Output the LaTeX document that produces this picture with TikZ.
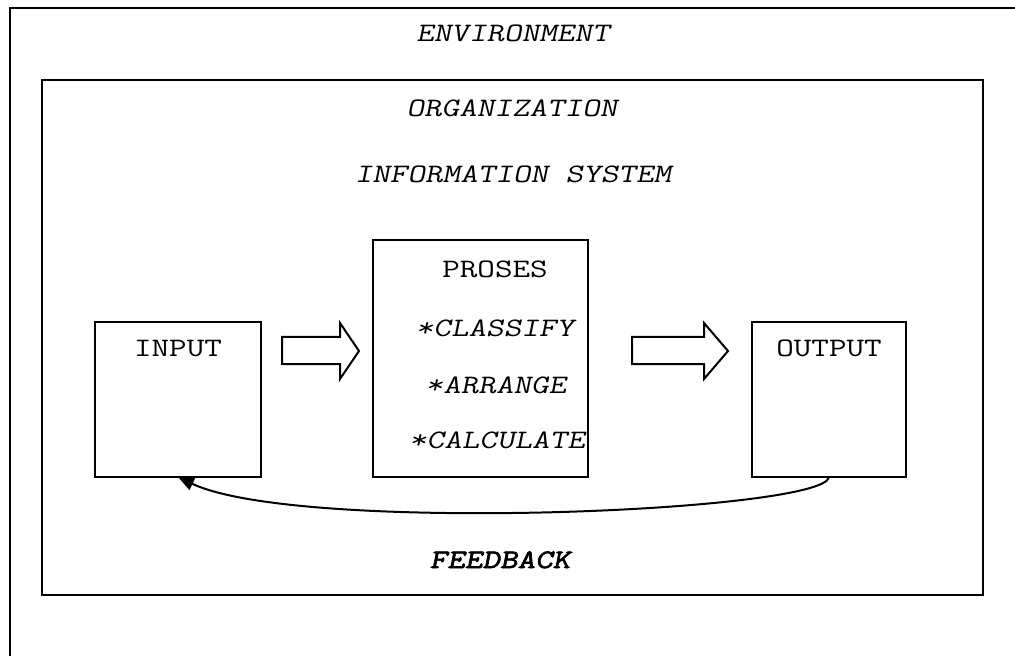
\documentclass[tikz,border=0pt]{standalone}
\usepackage{fontspec}
\setmonofont{Latin Modern Mono}[FakeStretch=1.28, ItalicFont={Latin Modern Mono}, ItalicFeatures={FakeSlant=0.2}]
\newfontfamily\fbfont{Latin Modern Mono}[FakeStretch=1.28, FakeBold=2.5, ItalicFont={Latin Modern Mono}, ItalicFeatures={FakeSlant=0.2}]
\usetikzlibrary{arrows.meta}

\begin{document}
\begin{tikzpicture}[x=0.75pt, y=-0.75pt,
  box/.style={draw, line width=1.5pt, inner sep=0pt, outer sep=0pt},
  lbl/.style={anchor=base, inner sep=0pt, font=\ttfamily\fontsize{20}{24}\selectfont},
  slant/.style={font=\ttfamily\itshape\fontsize{20}{24}\selectfont},
  blockarrow/.style={draw, line width=1.5pt, line join=miter}]
  \clip (0,0) rectangle (1015,656);
  % environment and organization
  \draw[line width=1.5pt] (10,8) rectangle (1040,690);
  \node[box, minimum width=705.75pt, minimum height=386.25pt] (org) at (512.5,337.5) {};
  \node[lbl, slant] (env) at (513,42) {ENVIRONMENT};
  \node[lbl, slant] (orgname) at (512,117) {ORGANIZATION};
  \node[lbl, slant] (infosys) at (513,183) {INFORMATION SYSTEM};
  % input - proses - output
  \node[box, minimum width=124.5pt, minimum height=116.25pt] (input) at (178,399.5) {};
  \node[box, minimum width=161.25pt, minimum height=177.75pt] (proses) at (480.5,358.5) {};
  \node[box, minimum width=115.5pt, minimum height=116.25pt] (output) at (829,399.5) {};
  \node[lbl] (inputname) at (178,357) {INPUT};
  \node[lbl] (outputname) at (829,357) {OUTPUT};
  \node[lbl] (prosesname) at (495,277) {PROSES};
  \node[lbl, slant] (classify) at (495,336) {*CLASSIFY};
  \node[lbl, slant] (arrange) at (496,393) {*ARRANGE};
  \node[lbl, slant] (calculate) at (497,448) {*CALCULATE};
  % block arrows
  \draw[blockarrow] (282,337) -- (340,337) -- (340,323) -- (359,351) -- (340,379) -- (340,364) -- (282,364) -- cycle;
  \draw[blockarrow] (632,337) -- (704,337) -- (704,323) -- (728,351) -- (704,379) -- (704,364) -- (632,364) -- cycle;
  % feedback
  \draw[line width=1.5pt, -{Triangle[length=12pt, width=10pt]}] (output.south) .. controls +(-4,35) and +(120,57) .. (input.south);
  \node[lbl, font=\fbfont\itshape\fontsize{20}{24}\selectfont] (feedback) at (500,568) {FEEDBACK};
\end{tikzpicture}
\end{document}
